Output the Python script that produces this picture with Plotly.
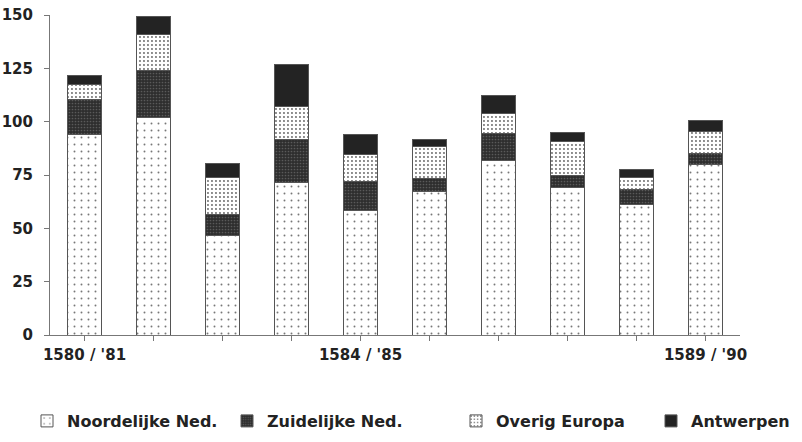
import plotly.graph_objects as go

categories = ["1580 / '81", "1581 / '82", "1582 / '83", "1583 / '84", "1584 / '85",
              "1585 / '86", "1586 / '87", "1587 / '88", "1588 / '89", "1589 / '90"]
shown_labels = ["1580 / '81", "1584 / '85", "1589 / '90"]

noordelijke = [94, 102, 46.5, 71.5, 58.5, 67.5, 82, 69, 61, 80]
zuidelijke = [16.5, 22, 10, 20, 13.5, 6, 12.5, 6, 7, 5]
overig = [7, 17, 17.5, 15.5, 12.5, 15, 9.5, 15.5, 6, 10.5]
antwerpen = [4, 8.5, 6.5, 20, 9.5, 3, 8.5, 4.5, 3.5, 5]

y_ticks = [0, 25, 50, 75, 100, 125, 150]

font_family = "DejaVu Sans"
text_col = "#222222"
line_col = "#555555"
axis_col = "#777777"

W, H = 802, 442

series = [
    ("Noordelijke Ned.", noordelijke,
     dict(shape=".", size=7, solidity=0.06, fgcolor="#777777", bgcolor="#ffffff", fillmode="replace")),
    ("Zuidelijke Ned.", zuidelijke,
     dict(shape=".", size=3, solidity=0.25, fgcolor="#5a5a5a", bgcolor="#2e2e2e", fillmode="replace")),
    ("Overig Europa", overig,
     dict(shape=".", size=4, solidity=0.18, fgcolor="#666666", bgcolor="#ffffff", fillmode="replace")),
    ("Antwerpen", antwerpen, None),
]
legend_ids = ["legend", "legend2", "legend3", "legend4"]
legend_x_px = [27, 227, 456, 651]

fig = go.Figure()
for (name, vals, pat), lid in zip(series, legend_ids):
    fig.add_trace(go.Bar(
        x=categories, y=vals, name=name,
        width=0.5,
        legend=lid,
        marker=dict(
            color="#232323" if pat is None else pat["bgcolor"],
            line=dict(color=line_col, width=1),
            pattern=pat,
        ),
    ))

legend_common = dict(
    orientation="h",
    xref="container", yref="container",
    y=(H - 421) / H, xanchor="left", yanchor="middle",
    font=dict(family=font_family, size=16, color=text_col, weight="bold"),
    itemwidth=30,
    bgcolor="rgba(0,0,0,0)",
)
legend_layout = {}
for lid, xp in zip(legend_ids, legend_x_px):
    legend_layout[lid] = dict(legend_common, x=xp / W)

fig.update_layout(
    barmode="stack",
    width=W, height=H,
    margin=dict(l=50, r=62, t=15, b=107, autoexpand=False),
    paper_bgcolor="white",
    plot_bgcolor="white",
    font=dict(family=font_family, size=15, color=text_col),
    showlegend=True,
    bargap=0.5,
    **legend_layout,
)

tick_font = dict(family=font_family, size=15, color=text_col, weight="bold")

fig.update_xaxes(
    type="category",
    range=[-0.5, 9.5],
    tickmode="array",
    tickvals=categories,
    ticktext=[c if c in shown_labels else "" for c in categories],
    showline=True, linecolor=axis_col, linewidth=1,
    ticks="outside", ticklen=5, tickcolor=axis_col,
    ticklabelstandoff=1,
    ticklabeloverflow="allow",
    showgrid=False, zeroline=False,
    tickfont=tick_font,
    automargin=False,
)
fig.update_yaxes(
    range=[0, 150],
    tickmode="array",
    tickvals=y_ticks,
    showline=True, linecolor=axis_col, linewidth=1,
    ticks="outside", ticklen=5, tickcolor=axis_col,
    ticklabelstandoff=8,
    ticklabeloverflow="allow",
    showgrid=False, zeroline=False,
    tickfont=tick_font,
    automargin=False,
)

fig.write_html(
    "out.html",
    config={"displayModeBar": False},
    post_script="document.body.style.margin='0';document.body.style.overflow='hidden';",
)
